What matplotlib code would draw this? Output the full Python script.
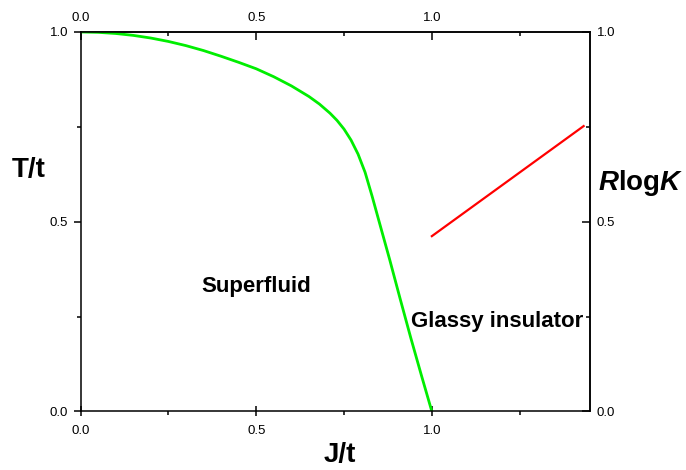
import matplotlib
matplotlib.use("Agg")
import matplotlib.pyplot as plt
import numpy as np

plt.rcParams['font.family'] = ['Liberation Sans', 'DejaVu Sans']
plt.rcParams['mathtext.fontset'] = 'custom'
plt.rcParams['mathtext.rm'] = 'Liberation Sans:bold'
plt.rcParams['mathtext.it'] = 'Liberation Sans:italic:bold'

# Phase boundary T_c(J) between superfluid and glassy insulator
J_boundary = [0.0, 0.05, 0.10, 0.15, 0.20, 0.25, 0.30, 0.35, 0.40, 0.45,
              0.50, 0.55, 0.60, 0.65, 0.68, 0.71, 0.73, 0.75, 0.77, 0.79,
              0.81, 0.83, 0.85, 0.88, 0.91, 0.94, 0.97, 1.0]
T_boundary = [1.0, 0.999, 0.996, 0.991, 0.984, 0.975, 0.964, 0.951, 0.936,
              0.920, 0.903, 0.882, 0.858, 0.830, 0.810, 0.786, 0.767, 0.744,
              0.715, 0.678, 0.630, 0.567, 0.500, 0.400, 0.296, 0.194, 0.096, 0.0]

# R log K in the insulating phase
J_rlogk = [1.0, 1.432]
rlogk = [0.462, 0.752]

ticks = [0.0, 0.5, 1.0]
tick_labels = ['0.0', '0.5', '1.0']
FS_TICK = 9.5

fig = plt.figure(figsize=(6.86, 4.70), dpi=100)
ax = fig.add_axes([0.1174, 0.1245, 0.7426, 0.8075])

ax.plot(J_boundary, T_boundary, color='#00ee00', lw=2.0,
        solid_joinstyle='round')
ax.plot(J_rlogk, rlogk, color='#ff0000', lw=1.6)

ax.set_xlim(0, 1.45)
ax.set_ylim(0, 1.0)

for s in ax.spines.values():
    s.set_linewidth(1.1)

ax.set_xticks(ticks)
ax.set_xticklabels(tick_labels)
ax.set_xticks([0.25, 0.75, 1.25], minor=True)
ax.set_yticks(ticks)
ax.set_yticklabels(tick_labels)
ax.set_yticks([0.25, 0.75], minor=True)

ax.tick_params(axis='x', which='major', direction='inout', length=7, width=1.1,
               labelsize=FS_TICK, pad=6)
ax.tick_params(axis='x', which='minor', direction='out', length=3, width=1.1)
ax.tick_params(axis='y', which='major', direction='out', length=5, width=1.1,
               labelsize=FS_TICK, pad=4)
ax.tick_params(axis='y', which='minor', direction='out', length=3, width=1.1)

# top and right axes carry their own inward ticks
top = ax.secondary_xaxis('top')
top.set_xticks(ticks)
top.set_xticklabels(tick_labels)
top.set_xticks([0.25, 0.75, 1.25], minor=True)
top.tick_params(which='major', direction='in', length=6, width=1.1,
                labelsize=FS_TICK, pad=5.5)
top.tick_params(which='minor', direction='in', length=3, width=1.1)
top.spines['top'].set_linewidth(1.1)

right = ax.secondary_yaxis('right')
right.set_yticks(ticks)
right.set_yticklabels(tick_labels)
right.set_yticks([0.25, 0.75], minor=True)
right.tick_params(which='major', direction='in', length=6, width=1.1,
                  labelsize=FS_TICK, pad=5)
right.tick_params(which='minor', direction='in', length=3, width=1.1)
right.spines['right'].set_linewidth(1.1)

# axis titles
ax.text(-0.148, 0.636, 'T/t', fontsize=20, fontweight='bold', ha='center',
        va='center', clip_on=False)
ax.text(0.737, -0.115, 'J/t', fontsize=20, fontweight='bold', ha='center',
        va='center', clip_on=False)
ax.text(1.594, 0.602, r'$\mathit{R}\mathrm{log}\mathit{K}$', fontsize=20,
        ha='center', va='center', clip_on=False)

# phase labels
ax.text(0.50, 0.33, 'Superfluid', fontsize=16, fontweight='bold',
        ha='center', va='center')
ax.text(0.942, 0.238, 'Glassy insulator', fontsize=16, fontweight='bold',
        ha='left', va='center')

fig.savefig('out.png', dpi=100)
